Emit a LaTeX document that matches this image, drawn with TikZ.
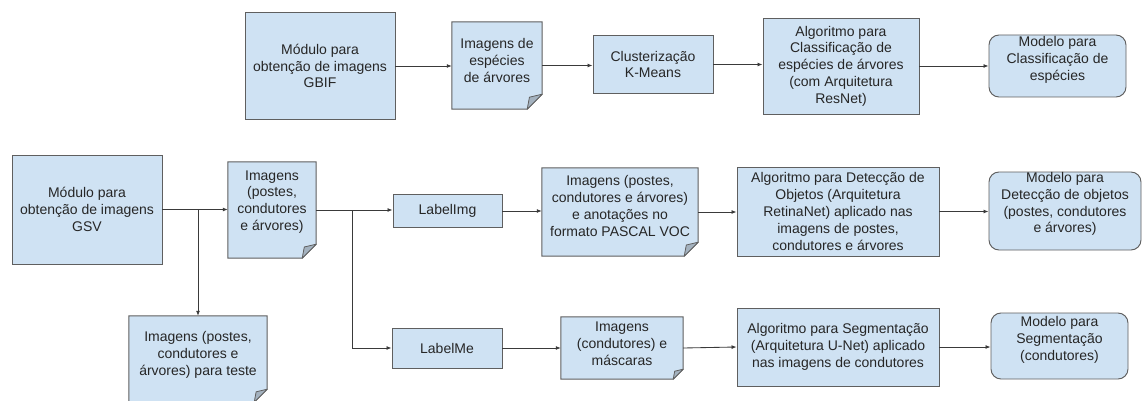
\documentclass[tikz,border=0pt]{standalone}
\usepackage{fontspec}
\setmainfont{Liberation Sans}
\usetikzlibrary{arrows.meta,backgrounds,calc}
\definecolor{boxc}{HTML}{CFE2F3}
\definecolor{bordc}{HTML}{5F5F5F}
\definecolor{foldc}{HTML}{A4B2BF}
\definecolor{arrc}{HTML}{3A3A3A}
\tikzset{
  txt/.style={font=\fontsize{14pt}{16.8pt}\selectfont, align=center, inner sep=0pt, text=black!85},
  box/.style={txt, draw=bordc, fill=boxc, line width=0.95pt},
  rbox/.style={draw=bordc, fill=boxc, line width=0.95pt, rounded corners=10pt, inner sep=0pt},
  docbox/.style={inner sep=0pt},
  docshp/.style={draw=bordc, fill=boxc, line width=0.95pt, line join=miter},
  foldshp/.style={draw=bordc, fill=foldc, line width=0.8pt, line join=round},
  arr/.style={draw=arrc, line width=0.85pt, -{Latex[length=5pt,width=4pt]}},
  ln/.style={draw=arrc, line width=0.85pt}
}
\newcommand\docshape[2]{%
  \path[docshp] (#1.north west) -- (#1.north east) -- ([yshift=#2pt]#1.south east)
     -- ([xshift=-#2pt]#1.south east) -- (#1.south west) -- cycle;
  \path[foldshp] ([yshift=#2pt]#1.south east) -- ([xshift=-#2pt]#1.south east)
     -- ([xshift=-0.85*#2pt,yshift=0.8*#2pt]#1.south east) -- cycle;}
\begin{document}
\begin{tikzpicture}[x=1pt,y=-1pt]
\useasboundingbox (0,0) rectangle (1143,401);

% ---------- top row ----------
\node[box, minimum width=150pt, minimum height=107pt] (gbif) at (320,66) {Módulo para\\obtenção de imagens\\GBIF};
\node[docbox, minimum width=90pt, minimum height=87pt] (imgesp) at (497,65.5) {};
\node[txt] (imgesp-t) at ([yshift=5pt]imgesp.center) {Imagens de\\espécies\\de árvores};
\node[box, minimum width=120pt, minimum height=58pt] (clust) at (653,64.5) {Clusterização\\K-Means};
\node[box, minimum width=156pt, minimum height=96pt] (algcls) at (841,66) {Algoritmo para\\Classificação de\\espécies de árvores\\(com Arquitetura\\ResNet)};
\node[rbox, minimum width=137pt, minimum height=62pt] (modcls) at (1057.5,66) {};
\node[txt] (modcls-t) at ([yshift=6pt]modcls.center) {Modelo para\\Classificação de\\espécies};

% ---------- bottom row ----------
\node[box, minimum width=150pt, minimum height=109pt] (gsv) at (87,209.5) {Módulo para\\obtenção de imagens\\GSV};
\node[docbox, minimum width=88pt, minimum height=96pt] (imgpost) at (272,210) {};
\node[txt] (imgpost-t) at ([yshift=8pt]imgpost.center) {Imagens\\(postes,\\condutores\\e árvores)};
\node[docbox, minimum width=138pt, minimum height=86pt] (test) at (198,359) {};
\node[txt] (test-t) at ([yshift=4pt]test.center) {Imagens (postes,\\condutores e\\árvores) para teste};

\node[box, minimum width=109pt, minimum height=33pt] (labelimg) at (447.5,211) {LabelImg};
\node[docbox, minimum width=156pt, minimum height=88pt] (pascal) at (620,212) {};
\node[txt] (pascal-t) at ([yshift=6pt]pascal.center) {Imagens (postes,\\condutores e árvores)\\e anotações no\\formato PASCAL VOC};
\node[box, minimum width=202pt, minimum height=89pt] (algdet) at (838,211.5) {Algoritmo para Detecção de\\Objetos (Arquitetura\\RetinaNet) aplicado nas\\imagens de postes,\\condutores e árvores};
\node[rbox, minimum width=152pt, minimum height=78pt] (moddet) at (1065,211) {};
\node[txt] (moddet-t) at ([yshift=7pt]moddet.center) {Modelo para\\Detecção de objetos\\(postes, condutores\\e árvores)};

\node[box, minimum width=110pt, minimum height=40pt] (labelme) at (447,348) {LabelMe};
\node[docbox, minimum width=122pt, minimum height=62pt] (imgcond) at (622,348) {};
\node[txt] (imgcond-t) at ([yshift=4pt]imgcond.center) {Imagens\\(condutores) e\\máscaras};
\node[box, minimum width=202pt, minimum height=78pt] (algseg) at (838,347) {Algoritmo para Segmentação\\(Arquitetura U-Net) aplicado\\nas imagens de condutores};
\node[rbox, minimum width=137pt, minimum height=66pt] (modseg) at (1059.5,346) {};
\node[txt] (modseg-t) at ([yshift=6pt]modseg.center) {Modelo para\\Segmentação\\(condutores)};

% document shapes
\begin{scope}[on background layer]
\fill[white] (0,0) rectangle (1143,401);
\docshape{imgesp}{15}
\docshape{imgpost}{14}
\docshape{test}{13}
\docshape{pascal}{14}
\docshape{imgcond}{10}
\end{scope}

% ---------- connectors ----------
\draw[arr] (gbif.east) -- (gbif.east -| imgesp.west);
\draw[arr] (imgesp.east) -- (imgesp.east -| clust.west);
\draw[arr] (clust.east) -- (clust.east -| algcls.west);
\draw[arr] (algcls.east) -- (algcls.east -| modcls.west);

\coordinate (br1) at (gsv.east -| test.north);
\draw[arr] (gsv.east) -- (gsv.east -| imgpost.west);
\draw[arr] (br1) -- (test.north);

\coordinate (br2) at ([xshift=36pt]imgpost.east);
\draw[arr] (imgpost.east) -- (imgpost.east -| labelimg.west);
\draw[arr] (br2) |- (labelme.west);

\draw[arr] (labelimg.east) -- (labelimg.east -| pascal.west);
\draw[arr] (pascal.east) -- (pascal.east -| algdet.west);
\draw[arr] (algdet.east) -- (algdet.east -| moddet.west);

\draw[arr] (labelme.east) -- (labelme.east -| imgcond.west);
\draw[arr] (imgcond.east) -- (algseg.west);
\draw[arr] (algseg.east) -- (algseg.east -| modseg.west);
\end{tikzpicture}
\end{document}
